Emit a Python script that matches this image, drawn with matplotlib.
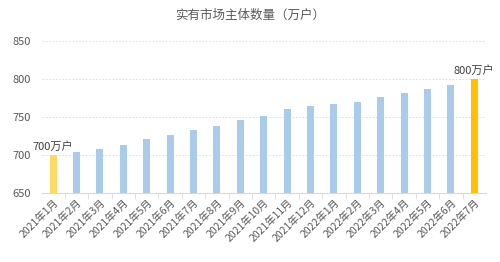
import matplotlib.pyplot as plt

plt.rcParams['font.family'] = ['Noto Sans CJK SC', 'DejaVu Sans']

months = ['2021年1月', '2021年2月', '2021年3月', '2021年4月', '2021年5月', '2021年6月',
          '2021年7月', '2021年8月', '2021年9月', '2021年10月', '2021年11月', '2021年12月',
          '2022年1月', '2022年2月', '2022年3月', '2022年4月', '2022年5月', '2022年6月',
          '2022年7月']
values = [700, 703.5, 707.5, 713.5, 721, 726, 732.5, 738.5, 745.5, 751.5, 760.5, 764,
          766.5, 769, 776, 782, 786.5, 792, 800]
yticks = [650, 700, 750, 800, 850]

colors = ['#A9CCEB'] * len(values)
colors[0] = '#FFD966'
colors[-1] = '#FFC000'

fig = plt.figure(figsize=(5, 2.62), dpi=100)
ax = fig.add_axes([0.083, 0.262, 0.889, 0.583])
x = range(len(values))
ax.bar(x, values, width=0.3, color=colors, zorder=3)

ax.set_ylim(650, 850)
ax.set_xlim(-0.5, len(values) - 0.5)
ax.set_yticks(yticks)
ax.yaxis.grid(True, linestyle=(0, (2, 2)), color='#D9D9D9', linewidth=0.6, zorder=0)
for s in ['top', 'right', 'left']:
    ax.spines[s].set_visible(False)
ax.spines['bottom'].set_color('#D9D9D9')
ax.tick_params(axis='y', length=0, labelsize=8, colors='#595959', pad=8)
ax.set_xticks([i + 0.5 for i in x][:-1], minor=True)
ax.set_xticks(list(x))
ax.set_xticklabels(months, rotation=45, ha='right', rotation_mode='anchor')
ax.tick_params(axis='x', which='major', length=0, labelsize=7.5, colors='#595959', pad=3)
ax.tick_params(axis='x', which='minor', length=4, color='#D9D9D9')

ax.text(0, 704, '700万户', ha='center', va='bottom', fontsize=8, color='#404040')
ax.text(len(values) - 1, 804, '800万户', ha='center', va='bottom', fontsize=8, color='#404040')

fig.text(0.5, 0.94, '实有市场主体数量（万户）', ha='center', va='center', fontsize=9, color='#595959')

fig.savefig('out.png', dpi=100)
